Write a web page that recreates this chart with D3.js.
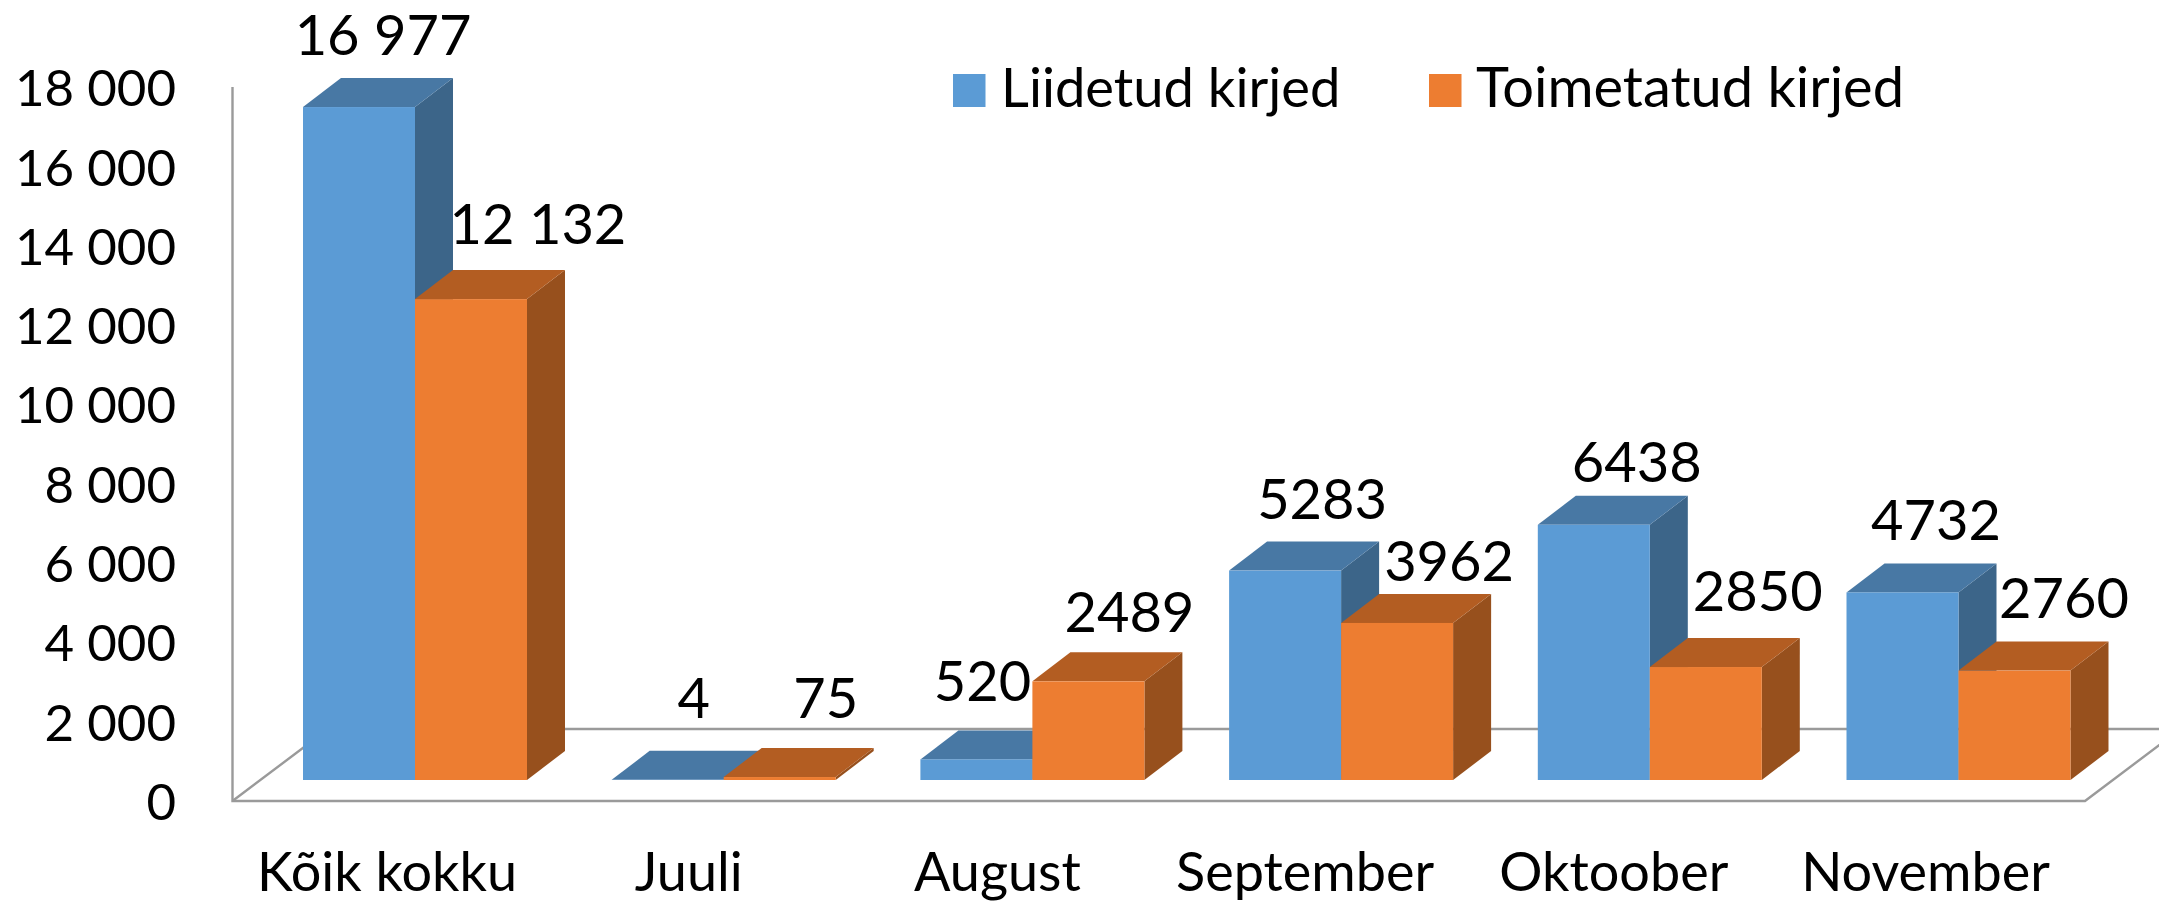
<!DOCTYPE html>
<html><head><meta charset="utf-8">
<script src="https://cdn.jsdelivr.net/npm/d3@7/dist/d3.min.js"></script>
<style>html,body{margin:0;padding:0;background:#fff;overflow:hidden}text{font-family:Lato,"Noto Sans",sans-serif;fill:#000}</style>
</head><body><svg id="c" width="2159" height="903"></svg>
<script>
const categories = ["Kõik kokku","Juuli","August","September","Oktoober","November"];
const seriesNames = ["Liidetud kirjed","Toimetatud kirjed"];
const liidetud = [16977,4,520,5283,6438,4732];
const toimetatud = [12132,75,2489,3962,2850,2760];
const valueLabels = [["16 977","4","520","5283","6438","4732"],["12 132","75","2489","3962","2850","2760"]];
const yTicks = [0,2000,4000,6000,8000,10000,12000,14000,16000,18000];
const seriesColors = [{front:"#5B9BD5",top:"#4878A4",side:"#3C6589"},{front:"#ED7D31",top:"#B35D22",side:"#97501D"}];
// hand-placed label nudges relative to each bar's top centre, as in the reference
const labelDx = [[24,26,6,37,43,33.5],[67,46,41,52,52,49.5]];
const labelDy = [[-52,-62,-58,-52,-43,-52],[-55,-59,-49,-42,-56,-53]];
const catNudge = [-28,-35,-35,-36,-36,-33];

const W=2159,H=903,FS=51,FSV=56,FSC=54,FSL=[54.3,56];
const depth={x:38,y:29}, floor={x:95.6,y:72}, inset=21;
const svg=d3.select("#c");
const y=d3.scaleLinear().domain([0,18000]).range([801,87.5]);
const x=d3.scaleBand().domain(categories).range([260.65,2112.85]).paddingInner(.2744).paddingOuter(.1372);
const xs=d3.scaleBand().domain([0,1]).range([0,x.bandwidth()]);
const base=y(0)-inset;
const yTop=v=>y(v)-inset;

// walls / floor
const grey="#9a9a9a";
const wallX=232.5, floorRight=2085, wallOver=0.5;
const lp=d3.line();
svg.append("path").attr("fill","none").attr("stroke",grey).attr("stroke-width",2.4)
  .attr("d",lp([[wallX,y(18000)-wallOver],[wallX,y(0)],[floorRight,y(0)],[floorRight+floor.x,y(0)-floor.y]]));
svg.append("path").attr("fill","none").attr("stroke",grey).attr("stroke-width",2.4)
  .attr("d",lp([[wallX,y(0)],[wallX+floor.x,y(0)-floor.y],[W+30,y(0)-floor.y]]));

// bars
const pts=a=>a.map(p=>p.join(",")).join(" ");
const series=[liidetud,toimetatud];
series.forEach((vals,s)=>{
  const c=seriesColors[s];
  const g=svg.append("g").selectAll("g").data(vals).join("g");
  const L=(d,i)=>x(categories[i])+xs(s), R=(d,i)=>L(d,i)+xs.bandwidth();
  g.append("polygon").attr("fill",c.side).attr("points",(d,i)=>pts([[R(d,i),base],[R(d,i)+depth.x,base-depth.y],[R(d,i)+depth.x,yTop(d)-depth.y],[R(d,i),yTop(d)]]));
  g.append("polygon").attr("fill",c.top).attr("points",(d,i)=>pts([[L(d,i),yTop(d)],[L(d,i)+depth.x,yTop(d)-depth.y],[R(d,i)+depth.x,yTop(d)-depth.y],[R(d,i),yTop(d)]]));
  g.append("rect").attr("fill",c.front).attr("x",L).attr("width",xs.bandwidth()).attr("y",d=>yTop(d)).attr("height",d=>base-yTop(d));
});

// value labels
series.forEach((vals,s)=>{
  svg.append("g").selectAll("text").data(vals).join("text")
    .attr("text-anchor","middle").attr("font-size",FSV)
    .attr("x",(d,i)=>x(categories[i])+xs(s)+xs.bandwidth()/2+labelDx[s][i])
    .attr("y",(d,i)=>yTop(d)+labelDy[s][i])
    .text((d,i)=>valueLabels[s][i]);
});

// y axis
const yAxis=d3.axisLeft(y).tickValues(yTicks).tickSize(0).tickPadding(0)
  .tickFormat(d=>d===0?"0":d3.format(",")(d).replace(",", " "));
const gy=svg.append("g").attr("transform","translate(176,0)").call(yAxis);
gy.select(".domain").remove();
gy.selectAll("text").attr("font-size",FS).attr("x",0).attr("dy","0.36em").attr("font-family",null);

// x axis
const gx=svg.append("g").attr("transform","translate(0,891)").call(d3.axisBottom(x).tickSize(0));
gx.select(".domain").remove();
gx.selectAll("text").attr("font-size",FSC).attr("y",0).attr("dy",0).attr("font-family",null)
  .attr("dx",(d,i)=>catNudge[i]);

// legend
const legX=[953,1429];
const lg=svg.append("g").selectAll("g").data(seriesNames).join("g").attr("transform",(d,i)=>`translate(${legX[i]},74)`);
lg.append("rect").attr("width",32.5).attr("height",33).attr("fill",(d,i)=>seriesColors[i].front);
lg.append("text").attr("x",(d,i)=>i?47:48).attr("y",33).attr("font-size",(d,i)=>FSL[i]).text(d=>d);
</script></body></html>
